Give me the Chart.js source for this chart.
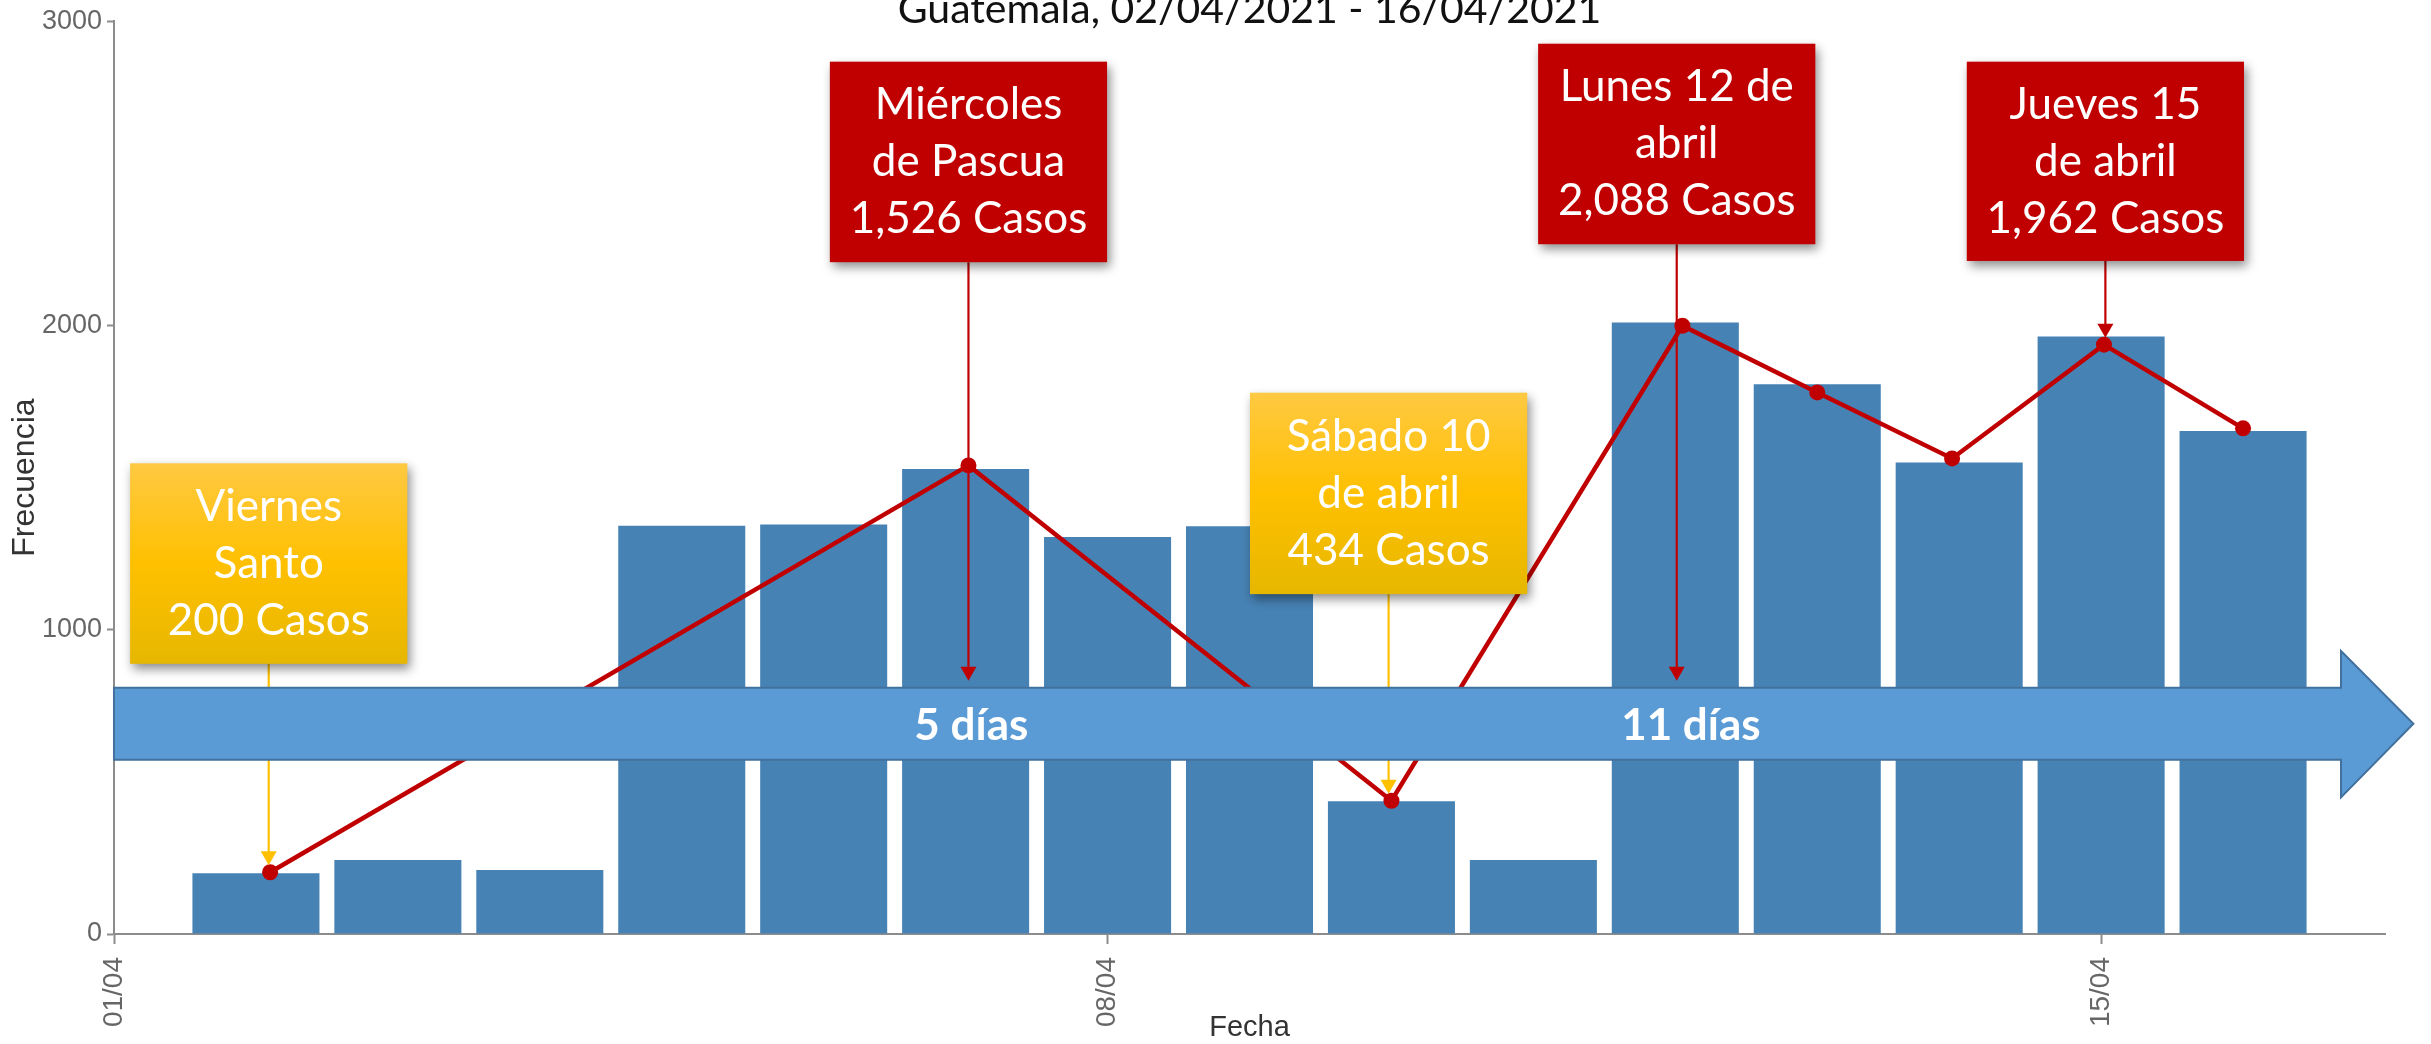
<!DOCTYPE html>
<html>
<head>
<meta charset="utf-8">
<script src="https://cdn.jsdelivr.net/npm/chart.js@4.4.0/dist/chart.umd.min.js"></script>
<style>
  html, body { margin: 0; padding: 0; background: #fff; overflow: hidden; }
  #wrap { width: 2431px; height: 1044px; position: relative; }
</style>
</head>
<body>
<div id="wrap"><canvas id="chart"></canvas></div>
<script>
// daily cases, Guatemala 02/04/2021 - 16/04/2021 (x = day of April)
const days  = [2, 3, 4, 5, 6, 7, 8, 9, 10, 11, 12, 13, 14, 15, 16];
const casos = [200, 243, 210, 1342, 1346, 1528, 1305, 1340, 436, 243, 2010, 1807, 1550, 1964, 1653];

// red trend line drawn over the bars
const lineDays  = [2.1, 7.02, 10, 12.05, 13, 13.95, 15.02, 16];
const lineCasos = [203, 1540, 438, 1999, 1780, 1563, 1937, 1662];

const tickDays   = [1, 8, 15];
const tickLabels = ['01/04', '08/04', '15/04'];
const yTicks     = [0, 1000, 2000, 3000];

const titulo = 'Guatemala, 02/04/2021 - 16/04/2021';

// callouts, anchored in axis units (day, value); target null = points at the big arrow
const callouts = [
  { day: 2.09,  top: 1547, bottom: 888,  kind: 'yellow', target: 203,  text: ['Viernes', 'Santo', '200 Casos'] },
  { day: 7.02,  top: 2867, bottom: 2208, kind: 'red',    target: null, text: ['Miércoles', 'de Pascua', '1,526 Casos'] },
  { day: 9.98,  top: 1779, bottom: 1117, kind: 'yellow', target: 438,  text: ['Sábado 10', 'de abril', '434 Casos'] },
  { day: 12.01, top: 2926, bottom: 2267, kind: 'red',    target: null, text: ['Lunes 12 de', 'abril', '2,088 Casos'] },
  { day: 15.03, top: 2867, bottom: 2212, kind: 'red',    target: 1937, text: ['Jueves 15', 'de abril', '1,962 Casos'] }
];
const boxDays = 1.953;

// big timeline arrow (days / values)
const arrowDays = [1, 16.69, 17.2];     // start, head start, tip
const arrowBody = [809, 573];           // top, bottom
const arrowHead = [930, 449];
const arrowText = [{ day: 7.04, text: '5 días' }, { day: 12.11, text: '11 días' }];

const RED = '#C00000', YELLOW = '#FFC000';

function arrowHeadDown(ctx, cx, tipY, color) {
  ctx.fillStyle = color;
  ctx.beginPath();
  ctx.moveTo(cx - 8, tipY - 14);
  ctx.lineTo(cx + 8, tipY - 14);
  ctx.lineTo(cx, tipY);
  ctx.closePath();
  ctx.fill();
}

const overlay = {
  id: 'overlay',
  afterDatasetsDraw(chart) {
    const { ctx, scales: { x, y }, chartArea } = chart;
    ctx.save();

    // connectors (under the big arrow)
    callouts.forEach(c => {
      const cx = x.getPixelForValue(c.day);
      const y0 = y.getPixelForValue(c.bottom);
      const tip = (c.target === null ? y.getPixelForValue(arrowBody[0]) : y.getPixelForValue(c.target)) - 7;
      const col = c.kind === 'red' ? RED : YELLOW;
      ctx.strokeStyle = col;
      ctx.lineWidth = 2.2;
      ctx.beginPath();
      ctx.moveTo(cx, y0);
      ctx.lineTo(cx, tip - 10);
      ctx.stroke();
      arrowHeadDown(ctx, cx, tip, col);
    });

    // big arrow
    const xl = x.getPixelForValue(arrowDays[0]);
    const xb = x.getPixelForValue(arrowDays[1]);
    const xt = x.getPixelForValue(arrowDays[2]);
    const bt = y.getPixelForValue(arrowBody[0]), bb = y.getPixelForValue(arrowBody[1]);
    const ht = y.getPixelForValue(arrowHead[0]), hb = y.getPixelForValue(arrowHead[1]);
    const ym = (bt + bb) / 2;
    ctx.beginPath();
    ctx.moveTo(xl, bt);
    ctx.lineTo(xb, bt);
    ctx.lineTo(xb, ht);
    ctx.lineTo(xt, ym);
    ctx.lineTo(xb, hb);
    ctx.lineTo(xb, bb);
    ctx.lineTo(xl, bb);
    ctx.closePath();
    ctx.fillStyle = '#5B9BD5';
    ctx.fill();
    ctx.strokeStyle = '#41719C';
    ctx.lineWidth = 2;
    ctx.stroke();

    ctx.fillStyle = '#fff';
    ctx.font = 'bold 44px Lato, "Open Sans", sans-serif';
    ctx.textAlign = 'center';
    ctx.textBaseline = 'middle';
    arrowText.forEach(t => ctx.fillText(t.text, x.getPixelForValue(t.day), ym + 2));

    // callout boxes
    callouts.forEach(c => {
      const x0 = x.getPixelForValue(c.day - boxDays / 2);
      const x1 = x.getPixelForValue(c.day + boxDays / 2);
      const y0 = y.getPixelForValue(c.top);
      const y1 = y.getPixelForValue(c.bottom);
      let fill = RED;
      if (c.kind === 'yellow') {
        fill = ctx.createLinearGradient(0, y0, 0, y1);
        fill.addColorStop(0, '#FFC942');
        fill.addColorStop(0.5, '#FFC000');
        fill.addColorStop(1, '#E6B700');
      }
      ctx.save();
      ctx.shadowColor = 'rgba(0,0,0,0.45)';
      ctx.shadowBlur = 10;
      ctx.shadowOffsetX = 3;
      ctx.shadowOffsetY = 5;
      ctx.fillStyle = fill;
      ctx.fillRect(x0, y0, x1 - x0, y1 - y0);
      ctx.restore();

      ctx.fillStyle = '#fff';
      ctx.font = '44px Lato, "Open Sans", sans-serif';
      ctx.textAlign = 'center';
      ctx.textBaseline = 'middle';
      const mid = (y0 + y1) / 2;
      c.text.forEach((s, i) => ctx.fillText(s, (x0 + x1) / 2, mid + (i - 1) * 57));
    });

    // title (clipped at the top as in the original)
    ctx.fillStyle = '#111';
    ctx.font = '41px Lato, "Open Sans", sans-serif';
    ctx.textAlign = 'center';
    ctx.textBaseline = 'alphabetic';
    ctx.fillText(titulo, (chartArea.left + chartArea.right) / 2, 23);

    ctx.restore();
  }
};

const yTickFont = { family: '"Liberation Sans Narrow", "Liberation Sans", Arial, sans-serif', size: 27 };
const xTickFont = { family: '"Liberation Sans", Arial, sans-serif', size: 28 };

new Chart(document.getElementById('chart'), {
  type: 'bar',
  data: {
    datasets: [
      {
        type: 'line', order: 1,
        data: lineDays.map((d, i) => ({ x: d, y: lineCasos[i] })),
        borderColor: RED, borderWidth: 4.5, tension: 0, fill: false,
        pointRadius: 8, pointBackgroundColor: RED, pointBorderColor: RED, pointBorderWidth: 0
      },
      {
        type: 'bar', order: 2,
        data: days.map((d, i) => ({ x: d, y: casos[i] })),
        backgroundColor: '#4682B4',
        barPercentage: 0.895, categoryPercentage: 1
      }
    ]
  },
  options: {
    responsive: true, maintainAspectRatio: false, animation: false,
    layout: { padding: { top: 18, right: 46, left: 0, bottom: 0 } },
    plugins: { legend: { display: false }, tooltip: { enabled: false } },
    scales: {
      x: {
        type: 'linear', min: 1, max: 17, offset: false,
        afterBuildTicks: s => { s.ticks = tickDays.map(v => ({ value: v })); },
        afterFit: s => { s.height = 110; },
        ticks: {
          autoSkip: false, minRotation: 90, maxRotation: 90, padding: 13,
          color: '#666', font: xTickFont,
          callback: v => tickLabels[tickDays.indexOf(v)] ?? ''
        },
        grid: { offset: false, drawOnChartArea: false, tickLength: 10, tickWidth: 2, tickColor: '#8c8c8c' },
        border: { display: true, color: '#8c8c8c', width: 2 },
        title: {
          display: true, text: 'Fecha', color: '#333',
          font: { family: '"Liberation Sans", Arial, sans-serif', size: 29, lineHeight: 1.1 },
          padding: { top: 0, bottom: 0 }
        }
      },
      y: {
        min: 0, max: 3000,
        afterBuildTicks: s => { s.ticks = yTicks.map(v => ({ value: v })); },
        afterFit: s => { s.width = 114; },
        ticks: { padding: 5, color: '#666', font: yTickFont, callback: v => String(v) },
        grid: { drawOnChartArea: false, tickLength: 7, tickWidth: 2, tickColor: '#8c8c8c' },
        border: { display: true, color: '#8c8c8c', width: 2 },
        title: {
          display: true, text: 'Frecuencia', color: '#333',
          font: { family: '"Liberation Sans", Arial, sans-serif', size: 32 },
          padding: { top: 6, bottom: 0 }
        }
      }
    }
  },
  plugins: [overlay]
});
</script>
</body>
</html>
